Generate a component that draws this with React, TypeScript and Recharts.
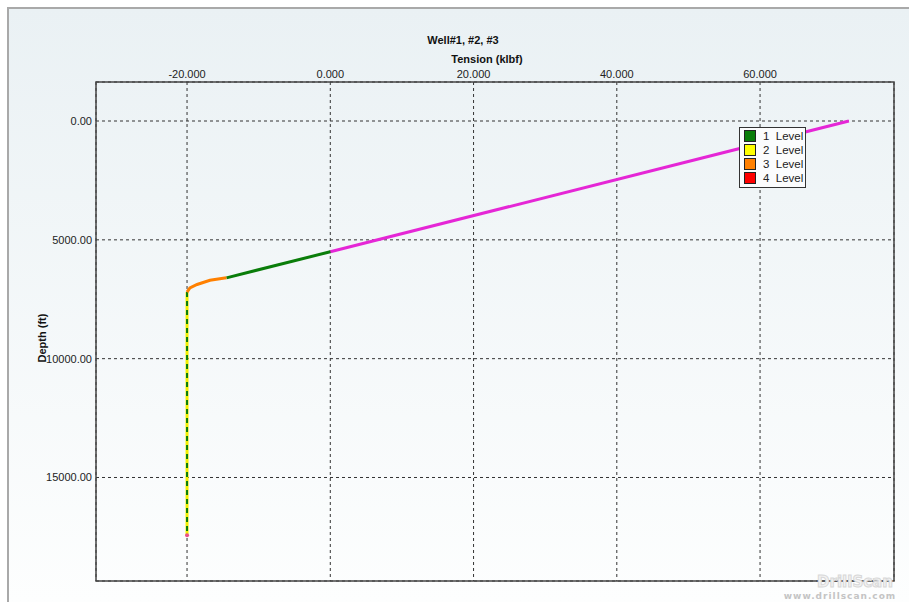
import React from 'react';
import { ScatterChart, Scatter, XAxis, YAxis, CartesianGrid, ReferenceArea } from 'recharts';

// Axis ticks and ranges
const tensionTicks = [-20, 0, 20, 40, 60];
const depthTicks = [0, 5000, 10000, 15000];
const tensionRange = [-32.71, 78.7];
const depthRange = [-1641, 19355];

// Tension (klbf) vs measured depth (ft) along the string
const upperTension = [72.4, 0.0];
const upperDepth = [0, 5500];
const slopeTension = [0.0, -14.5];
const slopeDepth = [5500, 6600];
const bendTension = [-14.5, -16.8, -18.6, -19.6, -20.0];
const bendDepth = [6600, 6700, 6880, 7020, 7200];
const bottomTension = [-20.0, -20.0];
const bottomDepth = [7200, 17430];
const endTension = [-20.0];
const endDepth = [17430];

// Legend entries
const legendLabels = ['1  Level', '2  Level', '3  Level', '4  Level'];
const legendColors = ['#0a7d0a', '#ffff00', '#ff8000', '#ff0000'];

const FONT = '"Liberation Sans", Arial, sans-serif';

const toPoints = (t: number[], d: number[]) => t.map((v, i) => ({ t: v, d: d[i] }));

const upper = toPoints(upperTension, upperDepth);
const slope = toPoints(slopeTension, slopeDepth);
const bend = toPoints(bendTension, bendDepth);
const bottom = toPoints(bottomTension, bottomDepth);
const end = toPoints(endTension, endDepth);

const noMarker = () => <g />;
const endMarker = (p: any) => <circle cx={p.cx} cy={p.cy} r={2} fill="#e8508a" />;

const LevelLegend = () => (
  <div
    style={{
      position: 'absolute',
      left: 739 - 9,
      top: 127 - 9,
      width: 65,
      height: 58,
      border: '1px solid #333',
      background: '#fbfcfd',
      paddingTop: 1,
      fontFamily: FONT,
      fontSize: 11.5,
      color: '#222',
    }}
  >
    {legendLabels.map((label, i) => (
      <div key={label} style={{ display: 'flex', alignItems: 'center', height: 14 }}>
        <div
          style={{
            width: 10,
            height: 10,
            marginLeft: 4,
            marginRight: 7,
            border: '1px solid #222',
            background: legendColors[i],
          }}
        />
        <span style={{ whiteSpace: 'pre' }}>{label}</span>
      </div>
    ))}
  </div>
);

const tickStyle = { fontSize: 11, fill: '#222', fontFamily: FONT };

const labelStyle = {
  position: 'absolute' as const,
  fontFamily: FONT,
  fontWeight: 'bold' as const,
  fontSize: 11,
  color: '#111',
  whiteSpace: 'nowrap' as const,
};

export default function App() {
  return (
    <div
      style={{
        position: 'absolute',
        left: 7,
        top: 7,
        width: 902,
        height: 595,
        boxSizing: 'border-box',
        borderTop: '2px solid #a9a9a9',
        borderLeft: '2px solid #a9a9a9',
        background: 'linear-gradient(to bottom, #eaf1f4, #fdfefe)',
        overflow: 'hidden',
      }}
    >
      <div style={{ position: 'absolute', left: -9, top: -9 }}>
        <ScatterChart width={909} height={602} margin={{ top: 52, right: 15, bottom: 21, left: 6 }}>
          <CartesianGrid stroke="#333" strokeDasharray="3 3" />
          <XAxis
            type="number"
            dataKey="t"
            orientation="top"
            height={30}
            domain={tensionRange}
            allowDataOverflow
            ticks={tensionTicks}
            tickFormatter={(v: number) => v.toFixed(3)}
            tickLine={false}
            tickSize={0}
            tickMargin={4}
            tick={tickStyle}
            axisLine={false}
          />
          <YAxis
            type="number"
            dataKey="d"
            reversed
            width={90}
            domain={depthRange}
            allowDataOverflow
            ticks={depthTicks}
            tickFormatter={(v: number) => v.toFixed(2)}
            tickLine={false}
            tickSize={0}
            tickMargin={4}
            tick={tickStyle}
            axisLine={false}
          />
          {/* solid frame around the plotting area */}
          <ReferenceArea
            x1={tensionRange[0]}
            x2={tensionRange[1]}
            y1={depthRange[0]}
            y2={depthRange[1]}
            fill="none"
            fillOpacity={0}
            stroke="#444"
            strokeWidth={1.5}
            ifOverflow="visible"
          />
          <Scatter
            data={upper}
            line={{ stroke: '#e526d6', strokeWidth: 3 }}
            shape={noMarker}
            legendType="none"
            isAnimationActive={false}
          />
          <Scatter
            data={slope}
            line={{ stroke: '#0a7d0a', strokeWidth: 3 }}
            shape={noMarker}
            legendType="none"
            isAnimationActive={false}
          />
          <Scatter
            data={bottom}
            line={{ stroke: '#f4f000', strokeWidth: 3 }}
            shape={noMarker}
            legendType="none"
            isAnimationActive={false}
          />
          <Scatter
            data={bottom}
            line={{ stroke: '#0a7d0a', strokeWidth: 2, strokeDasharray: '5 4' }}
            shape={noMarker}
            legendType="none"
            isAnimationActive={false}
          />
          <Scatter
            data={bend}
            line={{ stroke: '#ff8000', strokeWidth: 3 }}
            shape={noMarker}
            legendType="none"
            isAnimationActive={false}
          />
          <Scatter data={end} shape={endMarker} legendType="none" isAnimationActive={false} />
        </ScatterChart>
      </div>

      <LevelLegend />

      <div style={{ ...labelStyle, left: 463 - 9, top: 40 - 9, transform: 'translate(-50%, -50%)' }}>
        Well#1, #2, #3
      </div>
      <div style={{ ...labelStyle, left: 487 - 9, top: 59 - 9, transform: 'translate(-50%, -50%)' }}>
        Tension (klbf)
      </div>
      <div
        style={{
          ...labelStyle,
          left: 42 - 9,
          top: 338 - 9,
          transform: 'translate(-50%, -50%) rotate(-90deg)',
        }}
      >
        Depth (ft)
      </div>

      <div
        style={{
          position: 'absolute',
          left: 855 - 9,
          top: 582 - 9,
          transform: 'translate(-50%, -50%)',
          fontFamily: '"DejaVu Sans", sans-serif',
          fontWeight: 'bold',
          fontSize: 15,
          lineHeight: '16px',
          color: '#f2f2f2',
          WebkitTextStroke: '1px #d8d8d8',
          whiteSpace: 'nowrap',
        }}
      >
        DrillScan
      </div>
      <div
        style={{
          position: 'absolute',
          left: 840 - 9,
          top: 596 - 9,
          transform: 'translate(-50%, -50%)',
          fontFamily: '"DejaVu Sans", sans-serif',
          fontWeight: 'bold',
          fontSize: 9,
          lineHeight: '10px',
          letterSpacing: 1,
          color: '#c4c4c4',
          whiteSpace: 'nowrap',
        }}
      >
        www.drillscan.com
      </div>
    </div>
  );
}
